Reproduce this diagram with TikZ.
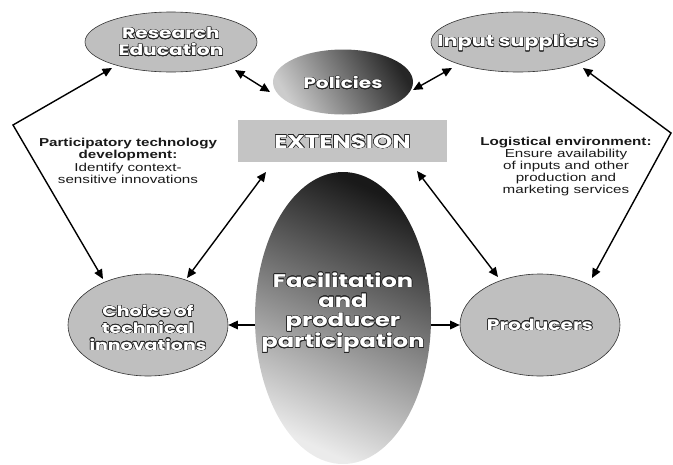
\documentclass[tikz,border=0pt]{standalone}
\usepackage{fontspec}
\setmainfont{Liberation Sans}[FakeStretch=1.32]
\newfontfamily\gfont{Poppins}[FakeStretch=1.32]
\usepackage{contour}
\contourlength{0.55pt}
\usetikzlibrary{arrows.meta,shapes.geometric,calc}
\newcommand{\ol}[1]{\contour{black!85}{#1}}
\tikzset{
  oval/.style={ellipse, draw=black!80, line width=0.6pt, fill=black!25, inner sep=0pt},
  lbl/.style={text=white, align=center, inner sep=0pt, font=\gfont\bfseries\fontsize{15.3}{17}\selectfont},
  note/.style={align=center, inner sep=0pt, text=black!90, font=\fontsize{11.5}{12.3}\selectfont},
  tip/.tip={Triangle[length=9.5pt,width=8.5pt]},
  arr/.style={line width=1.4pt, -tip},
  dbl/.style={line width=1.4pt, tip-tip},
}
\begin{document}
\begin{tikzpicture}[x=1pt,y=-1pt]
\useasboundingbox (0,0) rectangle (673,464);
% shapes
\node[oval, minimum width=172pt, minimum height=60pt] (re) at (171,42) {};
\node[oval, minimum width=174pt, minimum height=60pt] (is) at (518,42) {};
\node[ellipse, inner sep=0pt, minimum width=140pt, minimum height=65pt,
      top color=black!85, bottom color=black!20, shading angle=-60] (pol) at (343,82) {};
\node[rectangle, fill=black!23, inner sep=0pt, minimum width=209pt, minimum height=42pt] (ext) at (342.5,141) {};
\node[ellipse, inner sep=0pt, minimum width=176pt, minimum height=292pt,
      top color=black!90, bottom color=black!8, shading angle=-25] (fac) at (343,318) {};
\node[oval, minimum width=160pt, minimum height=102pt] (ch) at (148,325) {};
\node[oval, minimum width=160pt, minimum height=102pt] (pr) at (540,325) {};
% labels
\node[lbl] (re-t) at (re) {\ol{Research}\\\ol{Education}};
\node[lbl, font=\gfont\bfseries\fontsize{15.8}{17}\selectfont] (is-t) at (518,43) {\ol{Input suppliers}};
\node[lbl] (pol-t) at (343,83) {\ol{Policies}};
\node[lbl, font=\gfont\bfseries\fontsize{18.5}{20}\selectfont] (ext-t) at (342.5,142) {\ol{EXTENSION}};
\node[lbl, font=\gfont\bfseries\fontsize{18.3}{19.7}\selectfont] (fac-t) at (343,313)
  {\ol{Facilitation}\\\ol{and}\\\ol{producer}\\\ol{participation}};
\node[lbl, font=\gfont\bfseries\fontsize{14.4}{16.7}\selectfont] (ch-t) at (148,328)
  {\ol{Choice of}\\\ol{technical}\\\ol{innovations}};
\node[lbl] (pr-t) at (540,325) {\ol{Producers}};
% notes
\node[note] (pt) at (128,161) {\textbf{Participatory technology}\\\textbf{development:}\\Identify context-\\sensitive innovations};
\node[note, font=\fontsize{11.5}{11.8}\selectfont] (lg) at (566,166.5) {\textbf{Logistical environment:}\\Ensure availability\\of inputs and other\\production and\\marketing services};
% connectors
\coordinate (cl) at (13,125);
\coordinate (cr) at (671,133);
\draw[dbl] ($(re)+(64,28)$) -- ($(pol)+(-73,10)$);
\draw[dbl] ($(pol)+(70,8)$) -- ($(is)+(-66,26)$);
\draw[dbl] ($(re)+(-59,26)$) -- (cl) -- ($(ch)+(-45,-46)$);
\draw[dbl] ($(is)+(65,26)$) -- (cr) -- ($(pr)+(52,-47)$);
\draw[dbl] ($(ch)+(39,-47)$) -- ($(ext)+(-76.5,31)$);
\draw[dbl] ($(ext)+(74.5,30)$) -- ($(pr)+(-42,-48)$);
\draw[arr] (fac.west |- ch.east) -- (ch.east);
\draw[arr] (fac.east |- pr.west) -- (pr.west);
\end{tikzpicture}
\end{document}
